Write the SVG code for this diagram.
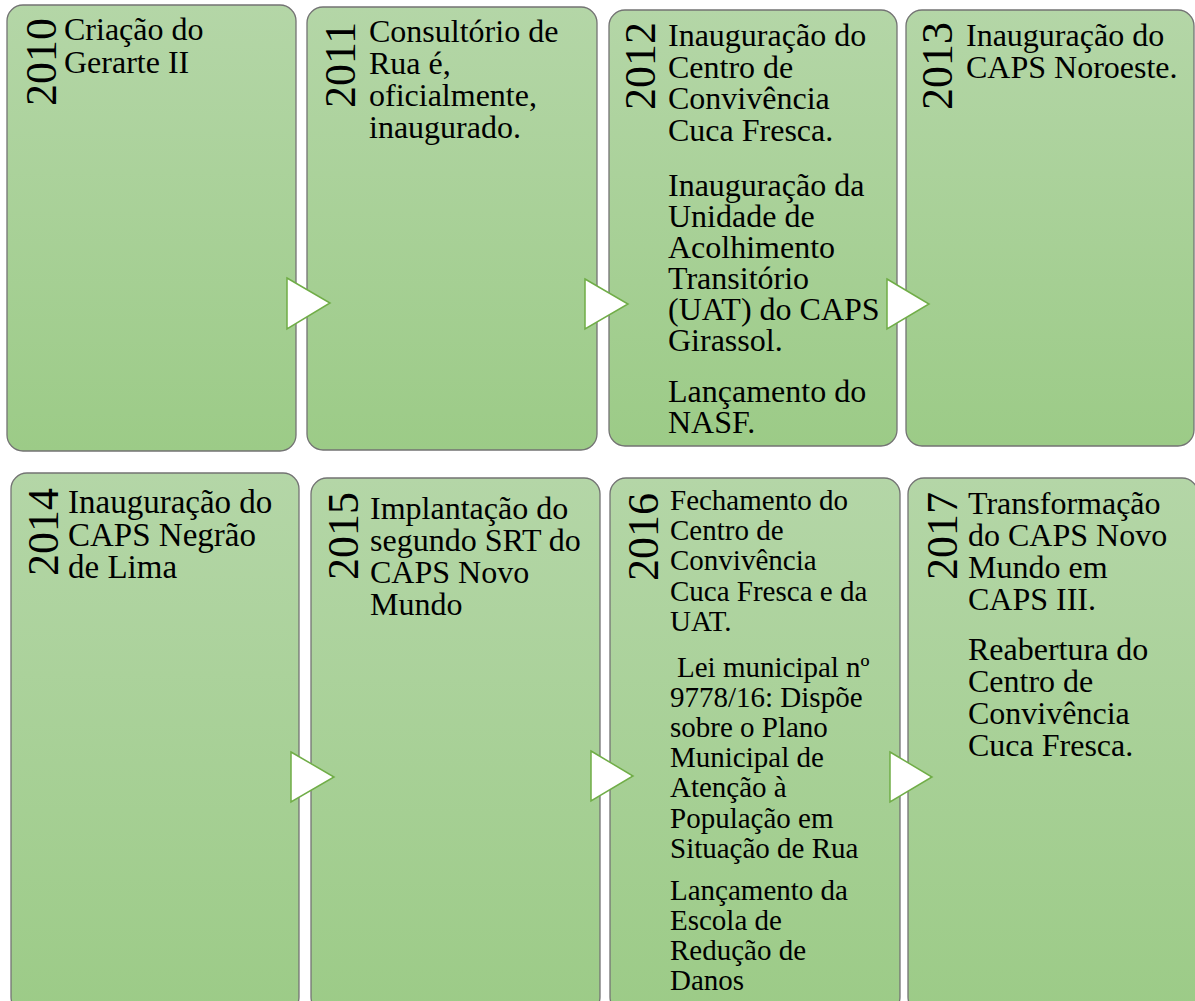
<svg xmlns="http://www.w3.org/2000/svg" width="1195" height="1001" viewBox="0 0 1195 1001" font-family="Liberation Serif, serif">
<defs>
<linearGradient id="g" x1="0" y1="0" x2="0" y2="1">
<stop offset="0" stop-color="#b4d6a7"/>
<stop offset="1" stop-color="#9ccb87"/>
</linearGradient>
<style>
.box{fill:url(#g);stroke:#737373;stroke-width:1.3}
.t{font-family:'Liberation Serif',serif;font-size:32px;fill:#000}
.s{font-size:29px}
.y{font-family:'Liberation Serif',serif;font-size:44px;fill:#000}
.arr{fill:#fff;stroke:#70ad47;stroke-width:1.5;stroke-linejoin:miter}
</style>
</defs>
<rect width="1195" height="1001" fill="#fff"/>
<g id="nodes">
<g id="n2010">
<rect class="box" x="7" y="5" width="289" height="446" rx="16"/>
<text class="y" transform="translate(56,106) rotate(-90)">2010</text>
<text class="t" x="64" y="40">Criação do</text>
<text class="t" x="64" y="73">Gerarte II</text>
</g>
<g id="n2011">
<rect class="box" x="307" y="7" width="290" height="443" rx="16"/>
<text class="y" transform="translate(355,108) rotate(-90)">2011</text>
<text class="t" x="369" y="42">Consultório de</text>
<text class="t" x="369" y="74">Rua é,</text>
<text class="t" x="369" y="106">oficialmente,</text>
<text class="t" x="369" y="138">inaugurado.</text>
</g>
<g id="n2012">
<rect class="box" x="609" y="10" width="288" height="436" rx="16"/>
<text class="y" transform="translate(655,110) rotate(-90)">2012</text>
<text class="t" x="668" y="46">Inauguração do</text>
<text class="t" x="668" y="78">Centro de</text>
<text class="t" x="668" y="109">Convivência</text>
<text class="t" x="668" y="141">Cuca Fresca.</text>
<text class="t" x="668" y="196">Inauguração da</text>
<text class="t" x="668" y="227">Unidade de</text>
<text class="t" x="668" y="258">Acolhimento</text>
<text class="t" x="668" y="289">Transitório</text>
<text class="t" x="668" y="320">(UAT) do CAPS</text>
<text class="t" x="668" y="351">Girassol.</text>
<text class="t" x="668" y="402">Lançamento do</text>
<text class="t" x="668" y="433">NASF.</text>
</g>
<g id="n2013">
<rect class="box" x="906" y="10" width="288" height="436" rx="16"/>
<text class="y" transform="translate(952,110) rotate(-90)">2013</text>
<text class="t" x="966" y="46">Inauguração do</text>
<text class="t" x="966" y="78">CAPS Noroeste.</text>
</g>
<g id="n2014">
<rect class="box" x="11" y="473" width="288" height="540" rx="16"/>
<text class="y" transform="translate(58,576) rotate(-90)">2014</text>
<text class="t" x="68" y="513" style="font-size:33px">Inauguração do</text>
<text class="t" x="68" y="546" style="font-size:33px">CAPS Negrão</text>
<text class="t" x="68" y="578" style="font-size:33px">de Lima</text>
</g>
<g id="n2015">
<rect class="box" x="311" y="478" width="289" height="535" rx="16"/>
<text class="y" transform="translate(358,580) rotate(-90)">2015</text>
<text class="t" x="370" y="519">Implantação do</text>
<text class="t" x="370" y="551">segundo SRT do</text>
<text class="t" x="370" y="583">CAPS Novo</text>
<text class="t" x="370" y="615">Mundo</text>
</g>
<g id="n2016">
<rect class="box" x="610" y="478" width="290" height="535" rx="16"/>
<text class="y" transform="translate(658,581) rotate(-90)">2016</text>
<text class="t s" x="670" y="510">Fechamento do</text>
<text class="t s" x="670" y="540">Centro de</text>
<text class="t s" x="670" y="570">Convivência</text>
<text class="t s" x="670" y="601">Cuca Fresca e da</text>
<text class="t s" x="670" y="631">UAT.</text>
<text class="t s" x="677" y="677">Lei municipal nº</text>
<text class="t s" x="670" y="707">9778/16: Dispõe</text>
<text class="t s" x="670" y="737">sobre o Plano</text>
<text class="t s" x="670" y="767">Municipal de</text>
<text class="t s" x="670" y="797">Atenção à</text>
<text class="t s" x="670" y="828">População em</text>
<text class="t s" x="670" y="858">Situação de Rua</text>
<text class="t s" x="670" y="900">Lançamento da</text>
<text class="t s" x="670" y="930">Escola de</text>
<text class="t s" x="670" y="960">Redução de</text>
<text class="t s" x="670" y="990">Danos</text>
</g>
<g id="n2017">
<rect class="box" x="908" y="478" width="290" height="535" rx="16"/>
<text class="y" transform="translate(957,580) rotate(-90)">2017</text>
<text class="t" x="968" y="514">Transformação</text>
<text class="t" x="968" y="546">do CAPS Novo</text>
<text class="t" x="968" y="578">Mundo em</text>
<text class="t" x="968" y="610">CAPS III.</text>
<text class="t" x="968" y="660">Reabertura do</text>
<text class="t" x="968" y="692">Centro de</text>
<text class="t" x="968" y="724">Convivência</text>
<text class="t" x="968" y="756">Cuca Fresca.</text>
</g>
</g>
<g id="connectors">
<polygon class="arr" points="287,278 330,303 287,329"/>
<polygon class="arr" points="585,279 628,304 585,329"/>
<polygon class="arr" points="887,279 929,304 887,329"/>
<polygon class="arr" points="291,752 334,777 291,802"/>
<polygon class="arr" points="591,751 633,776 591,801"/>
<polygon class="arr" points="890,752 932,777 890,802"/>
</g>
</svg>
